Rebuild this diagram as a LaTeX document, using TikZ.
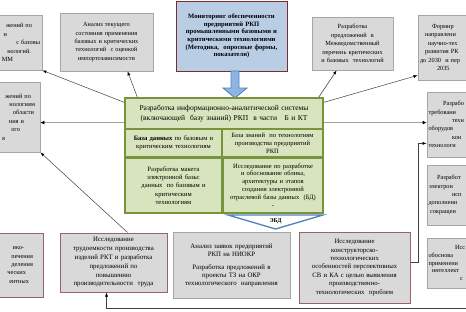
\documentclass[tikz,border=0pt]{standalone}
\usepackage{fontspec}
\setmainfont{Liberation Serif}
\usetikzlibrary{arrows.meta,calc}
\definecolor{gfill}{HTML}{D9D9D9}
\definecolor{gline}{HTML}{A6A6A6}
\definecolor{rline}{HTML}{9A6464}
\definecolor{bfill}{HTML}{B9CDE5}
\definecolor{bline}{HTML}{7B2C2C}
\definecolor{grfill}{HTML}{D7E4BD}
\definecolor{grline}{HTML}{77933C}
\definecolor{arblue}{HTML}{8EB4E3}
\definecolor{arblueline}{HTML}{4F81BD}
\definecolor{conn}{HTML}{404040}
\definecolor{thick}{HTML}{A0A0A0}
\newcommand\rgap[1]{\rule{#1}{0pt}}
\tikzset{
  box/.style={draw=gline, fill=gfill, line width=0.8pt, inner sep=1.5pt, align=center,
    font=\fontsize{6.3}{8.4}\selectfont},
  rbox/.style={box, draw=rline, line width=1pt},
  monbox/.style={box, draw=bline, fill=bfill, line width=1pt, font=\fontsize{6.6}{7.7}\selectfont\bfseries},
  grbox/.style={box, draw=grline, fill=grfill, line width=1.2pt, font=\fontsize{6.6}{8.3}\selectfont},
  arr/.style={draw=conn, line width=0.5pt, -{Latex[length=4pt,width=3pt,color=black]}},
  grayarr/.style={draw=thick, line width=1.6pt, -{Latex[length=4pt,width=4pt,color=black]}},
  blockarr/.style={draw=arblueline, fill=arblue, line width=0.8pt},
  chev/.style={draw=arblueline, fill=white, line width=1.3pt},
}
\begin{document}
\begin{tikzpicture}[x=1pt,y=-1pt]
\useasboundingbox (0,0) rectangle (466,311);
\clip (0,0) rectangle (466,311);
\fill[white] (0,0) rectangle (466,311);

% top row
\node[box, minimum width=102pt, minimum height=55pt, text width=99pt, align=right] (l1) at (-9,42.5)
 {жений по\rgap{8.5pt}\\и\rgap{33.5pt}\\с базовы\rgap{0.5pt}\\нологий.\rgap{9.5pt}\\ММ\rgap{27.5pt}};
\node[box, minimum width=93pt, minimum height=58pt, text width=89pt] (anal) at (106.5,42)
 {Анализ текущего\\ состояния применения\\ базовых и критических\\ технологий~ с оценкой\\ импортозависимости};
\node[monbox, minimum width=111pt, minimum height=70pt, text width=107pt] (mon) at (231.5,36)
 {Мониторинг обеспеченности\\ предприятий РКП\\ промышленными базовыми и\\ критическими технологиями\\ (Методика,~ опросные формы,\\ показатели)};
\node[box, minimum width=81pt, minimum height=53pt, text width=78pt] (per) at (352.5,43.5)
 {Разработка\\ предложений~ в\\ Межведомственный\\ перечень критических\\ и базовых~ технологий};
\node[box, minimum width=112pt, minimum height=65pt, text width=109pt, align=left] (nap) at (474,47.5)
 {\rgap{12.5pt}Формир\\\rgap{5.5pt}направлени\\\rgap{8.5pt}научно-тех\\\rgap{5.5pt}развития РК\\\rgap{0.5pt}до 2030~ и пер\\\rgap{17.5pt}2035};

% blue block arrow
\draw[blockarr] (231,71) -- (239,71) -- (239,88) -- (247,88) -- (235,98) -- (223,88) -- (231,88) -- cycle;

% middle left / right
\node[box, minimum width=100pt, minimum height=70pt, text width=97pt, align=right] (l2) at (-10,117)
 {жений по\rgap{7.5pt}\\нологиям\rgap{3.5pt}\\области\rgap{4.5pt}\\ния и\rgap{14.5pt}\\ого\rgap{18.5pt}\\я\rgap{33.5pt}};
\node[box, minimum width=103pt, minimum height=65pt, text width=100pt, align=left] (r1) at (478.5,124.5)
 {\rgap{14.5pt}Разрабо\\требовани\\\rgap{23.5pt}техн\\оборудов\\\rgap{23.5pt}кон\\технологи};
\node[box, minimum width=103pt, minimum height=60pt, text width=100pt, align=left] (r2) at (478.5,195)
 {\rgap{8.5pt}Разработ\\\rgap{0.5pt}электрон\\\rgap{23.5pt}исп\\дополнени\\\rgap{1.5pt}сокращен};
\node[box, minimum width=103pt, minimum height=50pt, text width=100pt, align=left,
  font=\fontsize{6.3}{7.6}\selectfont] (r3) at (478.5,263)
 {\rgap{26.5pt}Исс\\обоснова\\применени\\\rgap{3.5pt}интеллект\\\rgap{31.5pt}с};

% green block
\node[grbox, minimum width=198pt, minimum height=31pt, text width=194pt,
  font=\fontsize{7.5}{10}\selectfont] (g1) at (224,113.5)
 {Разработка информационно-аналитической системы\\ (включающей~ базу знаний) РКП~ в части~~ Б и КТ};
\node[grbox, minimum width=97pt, minimum height=28pt, text width=94pt] (g2l) at (173.5,143)
 {\textbf{База данных} по базовым и\\ критическим технологиям};
\node[grbox, minimum width=101pt, minimum height=28pt, text width=98pt,
  font=\fontsize{6.5}{7.9}\selectfont] (g2r) at (272.5,143)
 {База знаний~ по технологиям\\ производства предприятий\\ РКП};
\node[grbox, line width=1.6pt, minimum width=97pt, minimum height=55pt, text width=94pt] (g3l) at (173.5,185.5)
 {Разработка макета\\ электронной базы:\\ данных~ по базовым и\\ критическим\\ технологиям};
\node[grbox, minimum width=100pt, minimum height=55pt, text width=97pt,
  font=\fontsize{6.5}{7.9}\selectfont] (g3r) at (273,185.5)
 {Исследование по разработке\\ и обоснование облика,\\ архитектуры и этапов\\ создания электронной\\ отраслевой базы данных~ (БД)\\ -};

% chevron ЭБД
\draw[chev] (228,215) -- (323,215) -- (275.5,229) -- cycle;
\node[font=\fontsize{6}{7}\selectfont\bfseries, inner sep=0pt] (ebd) at (275.5,221.5) {ЭБД};

% bottom row
\node[rbox, minimum width=103pt, minimum height=64pt, text width=100pt, align=right] (l3) at (-8.5,265)
 {ико-\rgap{17.5pt}\\печения\rgap{8.5pt}\\деления\rgap{8.5pt}\\ческих\rgap{15.5pt}\\ентных\rgap{12.5pt}\\[4pt]};
\node[rbox, minimum width=107pt, minimum height=59pt, text width=104pt,
  font=\fontsize{6.8}{8.8}\selectfont] (b1) at (113.5,262.5)
 {Исследование\\ трудоемкости производства\\ изделий РКТ и разработка\\ предложений по\\ повышению\\ производительности~ труда};
\node[box, minimum width=117pt, minimum height=66pt, text width=114pt,
  font=\fontsize{6.8}{8}\selectfont] (b2) at (231.5,265)
 {Анализ заявок предприятий\\ РКП на НИОКР\\[5pt] Разработка предложений в\\ проекты ТЗ на ОКР\\ технологического~ направления\\[10pt]};
\node[rbox, minimum width=111pt, minimum height=71pt, text width=108pt,
  font=\fontsize{6.7}{8.4}\selectfont] (b3) at (354.5,267.5)
 {Исследование\\ конструкторско-\\ технологических\\ особенностей перспективных\\ СВ и КА с целью выявления\\ производственно-\\ технологических~ проблем};

% connectors from the green block
\draw[arr] ($(g1.north west)+(0,5)$) -- (l1.south east);
\draw[arr] ($(g1.north west)+(13,0)$) -- ($(anal.south west)+(68,0)$);
\draw[arr] ($(g1.north east)+(-5,0)$) -- ($(per.south west)+(25,0)$);
\draw[arr] ($(g1.north east)+(0,5)$) -- ($(nap.south west)+(0,-5)$);
\coordinate (gl) at ($(g1.south west)+(0,-7)$);
\coordinate (gr) at ($(g1.south east)+(0,-7)$);
\draw[grayarr] (gl) -- (gl -| l2.east);
\draw[grayarr] (gr) -- (gr -| r1.west);

% other connectors
\draw[arr] ($(b1.north west)+(68,0)$) -- (l2.south east);
\coordinate (b3r) at ($(b3.east)+(0,-5.5)$);
\draw[arr] (b3r) -- ++(8,0) |- ($(r1.south west)+(0,-14)$);
\coordinate (bo) at (470,308.5);
\draw[arr] (bo) -| ($(b1.south west)+(47,0)$);
\end{tikzpicture}
\end{document}
